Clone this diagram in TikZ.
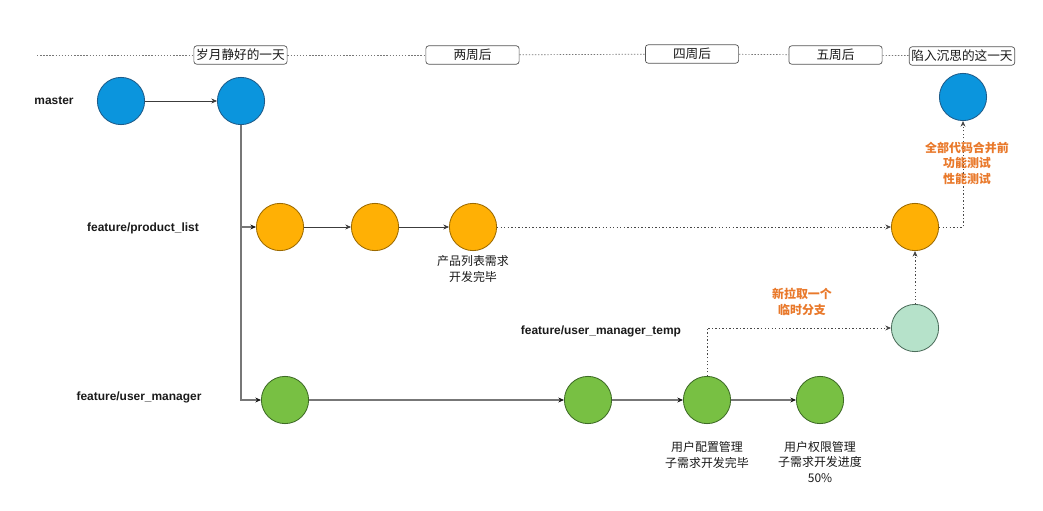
\documentclass[tikz,border=0pt]{standalone}
\usepackage{fontspec}
\setmainfont{Liberation Sans}
\newfontfamily\cjk{Noto Sans CJK SC}
\usetikzlibrary{arrows.meta}
\definecolor{MasterFill}{HTML}{0B95DD}
\definecolor{MasterLine}{HTML}{1F5C8A}
\definecolor{ProductFill}{HTML}{FFB005}
\definecolor{ProductLine}{HTML}{9C6A00}
\definecolor{UserFill}{HTML}{78C043}
\definecolor{UserLine}{HTML}{3E6B26}
\definecolor{TempFill}{HTML}{B6E2CA}
\definecolor{TempLine}{HTML}{4D6E5C}
\definecolor{NoteOrange}{HTML}{E9792B}
\definecolor{TextColor}{HTML}{1A1A1A}
\definecolor{LineGray}{HTML}{777777}
\definecolor{BoxLine}{HTML}{555555}

\begin{document}
\begin{tikzpicture}[x=0.025cm, y=-0.025cm,
    commit/.style={circle, draw=#1Line, fill=#1Fill, line width=0.6pt, minimum size=1.18cm, inner sep=0pt},
    daybox/.style={draw=BoxLine, fill=white, rounded corners=2pt, line width=0.5pt, minimum width=2.33cm, minimum height=0.46cm, inner sep=1pt, font=\cjk\fontsize{9}{11}\selectfont, text=TextColor},
    branchlabel/.style={font=\fontsize{8.5}{10}\selectfont\bfseries, text=TextColor},
    note/.style={font=\cjk\fontsize{8.5}{11}\selectfont, text=TextColor, align=center},
    hotnote/.style={font=\cjk\fontsize{8.5}{11}\selectfont\bfseries, text=NoteOrange, align=center},
    step arrow/.style={draw=TextColor!85, line width=0.5pt, -{Stealth[length=4pt,width=3.5pt]}},
    branchline/.style={draw=LineGray, line width=1pt, -{Stealth[length=4pt,width=3.5pt,color=TextColor]}},
    grayarrow/.style={draw=LineGray, line width=1pt, -{Stealth[length=4pt,width=3.5pt,color=TextColor]}},
    mergeline/.style={draw=TextColor!80, line width=0.6pt, dash pattern=on 1pt off 1.5pt, -{Stealth[length=4pt,width=3.5pt]}},
    timeline/.style={draw=LineGray, line width=0.5pt, dash pattern=on 1pt off 1.2pt}
]

\useasboundingbox (0,0) rectangle (1043,511);
\fill[white] (0,0) rectangle (1043,511);

% time line
\coordinate (tstart) at (37,55);
\node[daybox] (day1) at (240.5,55) {岁月静好的一天};
\node[daybox] (day2) at (472.5,55) {两周后};
\node[daybox] (day3) at (692,54) {四周后};
\node[daybox] (day4) at (835.5,55) {五周后};
\node[daybox, minimum width=0cm, inner xsep=1.5pt] (day5) at (962,56) {陷入沉思的这一天};
\draw[timeline] (tstart) -- (day1);
\draw[timeline] (day1) -- (day2);
\draw[timeline] (day2) -- (day3);
\draw[timeline] (day3) -- (day4);
\draw[timeline] (day4) -- (day5);

% branch names
\node[branchlabel] (lmaster) at (54,101) {master};
\node[branchlabel] (lprod) at (143,228) {feature/product\_list};
\node[branchlabel] (ltemp) at (601,331) {feature/user\_manager\_temp};
\node[branchlabel] (luser) at (139,397) {feature/user\_manager};

% commits
\node[commit=Master] (masterA) at (121,101) {};
\node[commit=Master] (masterB) at (241,101) {};
\node[commit=Master] (masterC) at (963,97) {};

\node[commit=Product] (prodA) at (280,227) {};
\node[commit=Product] (prodB) at (375,227) {};
\node[commit=Product] (prodC) at (473,227) {};
\node[commit=Product] (prodD) at (915,227) {};

\node[commit=Temp] (tempA) at (915,328) {};

\node[commit=User] (userA) at (285,400) {};
\node[commit=User] (userB) at (588,400) {};
\node[commit=User] (userC) at (707,400) {};
\node[commit=User] (userD) at (820,400) {};

% connectors
\draw[step arrow] (masterA) -- (masterB);
\draw[branchline] (masterB.south) |- (prodA);
\draw[branchline] (masterB.south) |- (userA);

\draw[step arrow] (prodA) -- (prodB);
\draw[step arrow] (prodB) -- (prodC);
\draw[mergeline] (prodC) -- (prodD);
\draw[mergeline] (prodD) -| (masterC);

\draw[grayarrow] (userA) -- (userB);
\draw[grayarrow] (userB) -- (userC);
\draw[grayarrow] (userC) -- (userD);
\draw[mergeline] (userC.north) |- (tempA);
\draw[mergeline] (tempA) -- (prodD);

% notes
\node[note] (nprod) at (473,269) {产品列表需求\\开发完毕};
\node[note] (nuserC) at (707,455) {用户配置管理\\子需求开发完毕};
\node[note] (nuserD) at (820,462) {用户权限管理\\子需求开发进度\\50\%};
\node[hotnote] (ntemp) at (802,302) {新拉取一个\\临时分支};
\node[hotnote] (nmerge) at (967,163) {全部代码合并前\\功能测试\\性能测试};

\end{tikzpicture}
\end{document}
